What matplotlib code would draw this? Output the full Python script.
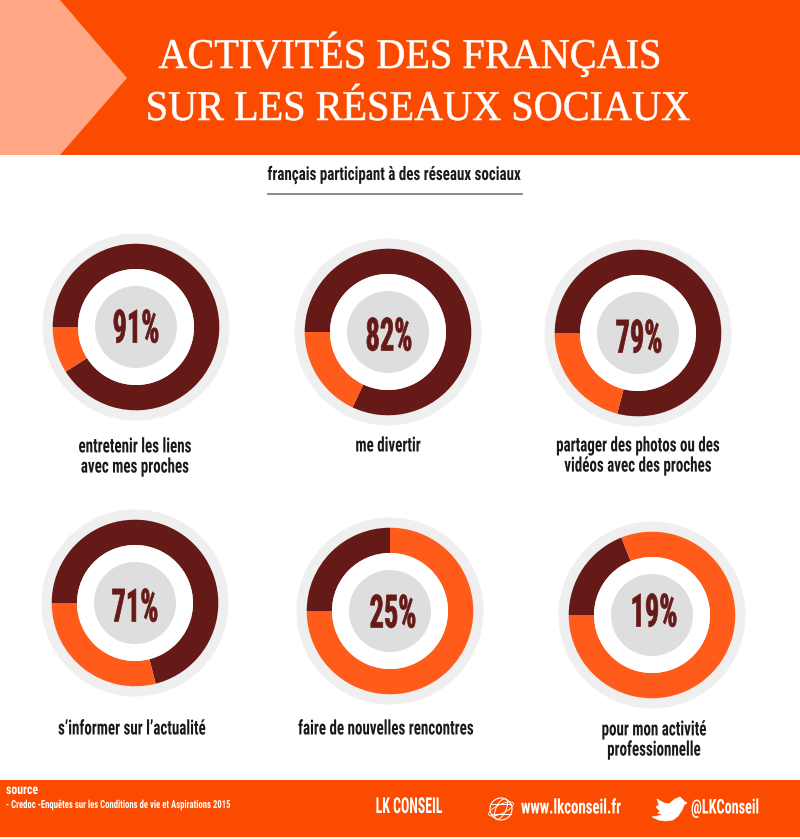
import matplotlib
matplotlib.use('Agg')
import matplotlib.pyplot as plt
import matplotlib.patheffects as pe
from matplotlib.patches import Rectangle, Polygon, Circle, Ellipse
from matplotlib.transforms import Affine2D

pcts = [91, 82, 79, 71, 25, 19]
pct_labels = ['91%', '82%', '79%', '71%', '25%', '19%']
captions = ['entretenir les liens\navec mes proches', 'me divertir',
            'partager des photos ou des\nvidéos avec des proches',
            's’informer sur l’actualité', 'faire de nouvelles rencontres',
            'pour mon activité\nprofessionnelle']
centers = [(136, 327), (388, 332), (638, 333), (135, 603), (390, 611), (652, 615)]
label_pos = [(136, 325), (389, 333), (639, 335), (135, 604), (393, 610), (654, 609)]
caption_pos = [(135, 457), (388, 446), (638, 456), (132, 729), (386, 729), (654, 740)]

FONT = ['Roboto Condensed', 'DejaVu Sans']
DARK = '#651A17'
ORANGE = '#FF5B1A'
HEAD = '#FB4B00'

W, H = 800, 839


# the reference font is much narrower than anything installed
class Squeeze(pe.AbstractPathEffect):
    def __init__(self, sx, x0, stroke=0):
        super().__init__()
        self.sx = sx
        self.x0 = x0
        self.stroke = stroke

    def draw_path(self, renderer, gc, tpath, affine, rgbFace=None):
        a = affine + Affine2D().translate(-self.x0, 0).scale(self.sx, 1).translate(self.x0, 0)
        gc0 = renderer.new_gc()
        gc0.copy_properties(gc)
        gc0.set_linewidth(self.stroke)
        if rgbFace is not None:
            gc0.set_foreground(rgbFace)
        renderer.draw_path(gc0, tpath, a, rgbFace)
        gc0.restore()


def squeezed(ax, x, y, s, sx, x0, stroke=0, **kw):
    return ax.text(x, y, s, path_effects=[Squeeze(sx, x0, stroke)], **kw)


fig = plt.figure(figsize=(W / 100, H / 100), dpi=100, facecolor='white')
bg = fig.add_axes([0, 0, 1, 1])
bg.set_xlim(0, W)
bg.set_ylim(H, 0)
bg.axis('off')

# header
bg.add_patch(Rectangle((0, 0), W, 155, color=HEAD, lw=0))
bg.add_patch(Polygon([(0, 0), (60, 0), (127, 78), (60, 155), (0, 155)], color='#FFA684', lw=0))
squeezed(bg, 410, 68, 'ACTIVITÉS DES FRANÇAIS', 0.95, 410, stroke=0.4, color='white', family='Liberation Serif',
         fontsize=30.5, ha='center', va='baseline')
squeezed(bg, 418, 120, 'SUR LES RÉSEAUX SOCIAUX', 0.95, 418, stroke=0.4, color='white', family='Liberation Serif',
         fontsize=30.5, ha='center', va='baseline')
squeezed(bg, 394, 175, 'français participant à des réseaux sociaux', 0.8, 394, color='#1A1A1A', family=FONT,
         fontsize=13.5, ha='center', va='center', fontweight='bold')
bg.plot([268, 522], [193.5, 193.5], color='#808080', lw=1.3)

# footer
bg.add_patch(Rectangle((0, 780), W, 57, color=HEAD, lw=0))
squeezed(bg, 6, 790, 'source', 0.85, 6, color='white', family=FONT, fontsize=10, va='center', fontweight='bold')
squeezed(bg, 6, 805, '- Credoc -Enquêtes sur les Conditions de vie et Aspirations 2015', 0.78, 6, color='white',
         family=FONT, fontsize=8, va='center', fontweight='bold')
squeezed(bg, 409, 807, 'LK CONSEIL', 0.63, 409, color='white', family=FONT, fontsize=15.8, ha='center', va='center',
         fontweight='bold')
squeezed(bg, 521, 808, 'www.lkconseil.fr', 0.73, 521, color='white', family=FONT, fontsize=14.6, va='center',
         fontweight='bold')
squeezed(bg, 691, 808, '@LKConseil', 0.7, 691, color='white', family=FONT, fontsize=14.6, va='center',
         fontweight='bold')

# globe icon
bg.add_patch(Circle((501, 809), 11, fill=False, ec='white', lw=0.8))
bg.add_patch(Ellipse((501, 809), 10, 22, angle=25, fill=False, ec='white', lw=0.7))
bg.add_patch(Ellipse((501, 809), 27, 9, angle=-25, fill=False, ec='white', lw=0.6))
bg.plot([491, 511], [804, 804], color='white', lw=0.7)
bg.plot([491, 511], [814, 814], color='white', lw=0.7)

# twitter bird
bird = [(687, 803), (684, 801), (680, 797), (675, 799), (669, 804), (664, 803), (657, 799), (659, 805), (656, 807),
        (660, 811), (658, 813), (663, 815), (652, 817), (659, 820), (665, 821), (673, 820), (678, 816), (682, 810),
        (684, 805)]
bg.add_patch(Polygon(bird, fc='white', ec='white', lw=0.5))

for i in range(6):
    cx, cy = centers[i]
    r = 95
    ax = fig.add_axes([(cx - r) / W, 1 - (cy + r) / H, 2 * r / W, 2 * r / H])
    ax.add_patch(Circle((0, 0), 93.5, color='#EFEFEF', lw=0))
    ax.pie([pcts[i], 100 - pcts[i]], colors=[DARK, ORANGE], startangle=180, counterclock=False,
           radius=83.3, wedgeprops={'width': 25.3, 'linewidth': 0})
    ax.add_patch(Circle((0, 0), 58, color='white', lw=0))
    ax.add_patch(Circle((0, 0), 41, color='#DEDEDE', lw=0))
    ax.set_xlim(-r, r)
    ax.set_ylim(-r, r)
    lx, ly = label_pos[i]
    squeezed(ax, lx - cx, cy - ly, pct_labels[i], 0.62, lx, stroke=0.5, color=DARK, family=FONT, fontsize=33,
             ha='center', va='center_baseline', fontweight='bold')
    cap_x, cap_y = caption_pos[i]
    squeezed(bg, cap_x, cap_y, captions[i], 0.74, cap_x, color='#1A1A1A', family=FONT, fontsize=14.6,
             ha='center', va='center', linespacing=1.08, fontweight='bold')

fig.savefig('out.png', dpi=100, facecolor='white')
